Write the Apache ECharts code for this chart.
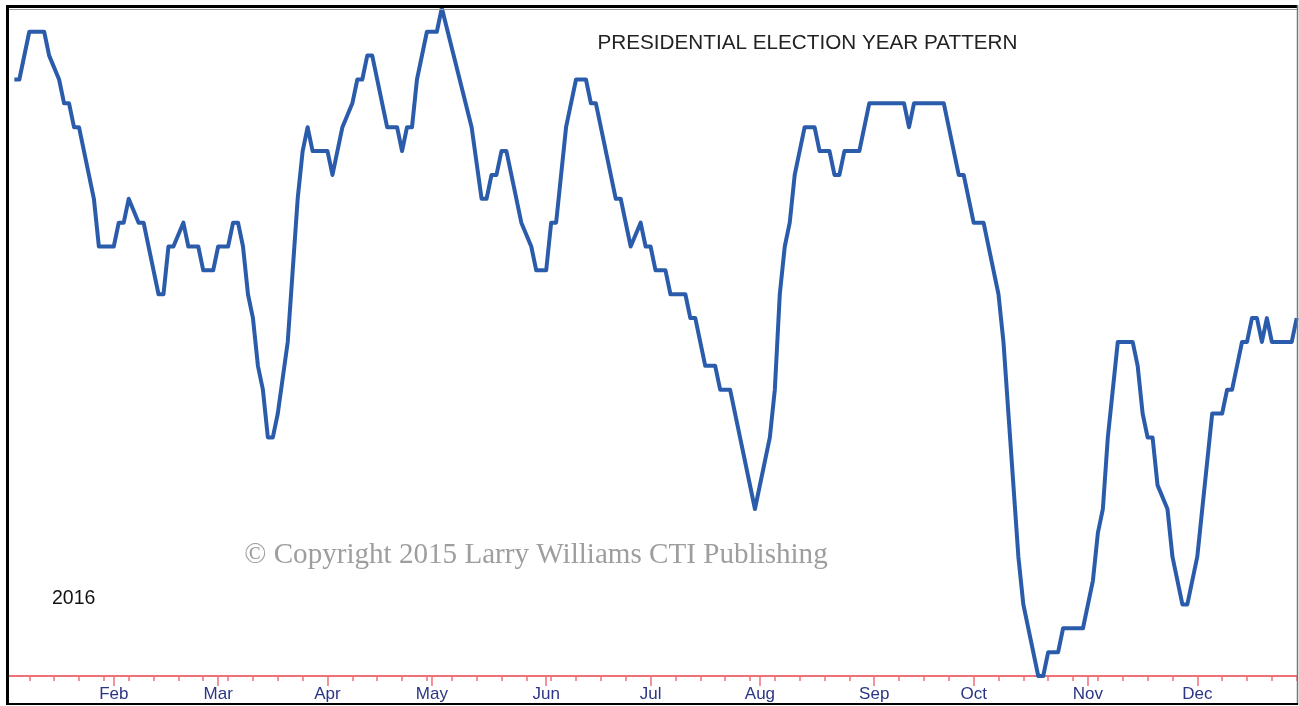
<!DOCTYPE html>
<html>
<head>
<meta charset="utf-8">
<script src="https://cdn.jsdelivr.net/npm/echarts@6/dist/echarts.min.js"></script>
<style>
html,body{margin:0;padding:0;background:#fff;}
#chart{width:1299px;height:706px;}
</style>
</head>
<body>
<div id="chart"></div>
<script>
// Trading-day index of each vertex of the seasonal pattern line
const dayIndex = [0,1,3,6,7,9,10,11,12,13,16,17,20,21,22,23,25,26,29,30,31,32,34,35,37,38,40,41,43,44,45,46,47,48,49,50,51,52,53,55,56,57,58,59,60,63,64,66,68,69,70,71,72,75,77,78,79,80,81,83,85,86,92,94,95,96,97,98,99,102,104,105,107,108,109,111,113,115,116,117,121,122,124,126,127,128,129,131,132,135,136,137,139,141,142,144,149,152,153,154,155,156,157,159,161,162,164,165,166,167,170,172,179,180,181,187,190,191,193,195,198,199,200,201,202,203,206,207,208,210,211,215,217,218,219,220,221,222,225,226,227,228,229,230,232,233,235,236,238,241,243,244,245,247,248,249,250,251,252,253,257,258];
// Pattern level at each vertex
const patternLevel = [25,25,27,27,26,25,24,24,23,23,20,18,18,19,19,20,19,19,16,16,18,18,19,18,18,17,17,18,18,19,19,18,16,15,13,12,10,10,11,14,17,20,22,23,22,22,21,23,24,25,25,26,26,23,23,22,23,23,25,27,27,28,23,20,20,21,21,22,22,19,18,17,17,19,19,23,25,25,24,24,20,20,18,19,18,18,17,17,16,16,15,15,13,13,12,12,7,10,12,16,18,19,21,23,23,22,22,21,21,22,22,24,24,23,24,24,21,21,19,19,16,14,11,8,5,3,0,0,1,1,2,2,4,6,7,10,12,14,14,13,11,10,10,8,7,5,3,3,5,11,11,12,12,14,14,15,15,14,15,14,14,15];
// Month start ticks (trading-day index) and labels
const monthTicks = [20,41,63,84,107,128,150,173,193,216,238];
const monthNames = ['Feb','Mar','Apr','May','Jun','Jul','Aug','Sep','Oct','Nov','Dec'];
// Weekly minor ticks
const weekTicks = [];
for (let d = 3; d <= 258; d += 5) weekTicks.push(d);

const titleText = 'PRESIDENTIAL ELECTION YEAR PATTERN';
const copyrightText = '\u00A9 Copyright 2015 Larry Williams CTI Publishing';
const yearText = '2016';

const seriesData = dayIndex.map((d, i) => [d, patternLevel[i]]);

const chart = echarts.init(document.getElementById('chart'), null, {renderer: 'canvas'});
const red = '#f07078';
chart.setOption({
  animation: false,
  backgroundColor: '#ffffff',
  grid: {left: 9.4, right: 2.3, top: 7.9, bottom: 30, containLabel: false},
  xAxis: [
    {
      type: 'value', min: -1, max: 258,
      axisLine: {show: true, onZero: false, lineStyle: {color: red, width: 2}},
      splitLine: {show: false},
      axisTick: {show: true, customValues: monthTicks, length: 10, lineStyle: {color: red, width: 1.5}},
      axisLabel: {
        show: true, customValues: monthTicks,
        formatter: function (v) { const i = monthTicks.indexOf(v); return i >= 0 ? monthNames[i] : ''; },
        color: '#2b3585', fontSize: 17, fontFamily: 'Liberation Sans, Arial, sans-serif', margin: 10
      }
    },
    {
      type: 'value', min: -1, max: 258, position: 'bottom',
      axisLine: {show: false, onZero: false},
      splitLine: {show: false},
      axisTick: {show: true, customValues: weekTicks, length: 5, lineStyle: {color: red, width: 1.5}},
      axisLabel: {show: false}
    }
  ],
  yAxis: {type: 'value', min: 0, max: 28, show: false, splitLine: {show: false}},
  series: [{
    type: 'line', xAxisIndex: 0, data: seriesData, showSymbol: false, symbol: 'none',
    clip: false, smooth: false,
    lineStyle: {color: '#2b5cab', width: 4, join: 'round'}
  }],
  graphic: [
    {type: 'line', z: 100, shape: {x1: 7.5, y1: 5, x2: 7.5, y2: 705}, style: {stroke: '#000', lineWidth: 3}},
    {type: 'line', z: 100, shape: {x1: 6, y1: 6.5, x2: 1298, y2: 6.5}, style: {stroke: '#000', lineWidth: 3}},
    {type: 'line', z: 100, shape: {x1: 9, y1: 9.5, x2: 1297, y2: 9.5}, style: {stroke: '#999', lineWidth: 1}},
    {type: 'line', z: 100, shape: {x1: 1297.5, y1: 5, x2: 1297.5, y2: 705}, style: {stroke: '#777', lineWidth: 1.5}},
    {type: 'line', z: 100, shape: {x1: 6, y1: 704, x2: 1298, y2: 704}, style: {stroke: '#000', lineWidth: 2}},
    {type: 'text', z: 50, x: 807.5, y: 43.5, style: {text: titleText, fill: '#222', font: '20.7px "Liberation Sans", Arial, sans-serif', textAlign: 'center', textVerticalAlign: 'middle'}},
    {type: 'text', z: 50, x: 536, y: 555, style: {text: copyrightText, fill: '#9e9e9e', font: '29.1px "Liberation Serif", "Times New Roman", serif', textAlign: 'center', textVerticalAlign: 'middle'}},
    {type: 'text', z: 50, x: 52, y: 599, style: {text: yearText, fill: '#111', font: '19.5px "Liberation Sans", Arial, sans-serif', textAlign: 'left', textVerticalAlign: 'middle'}}
  ]
});
</script>
</body>
</html>
